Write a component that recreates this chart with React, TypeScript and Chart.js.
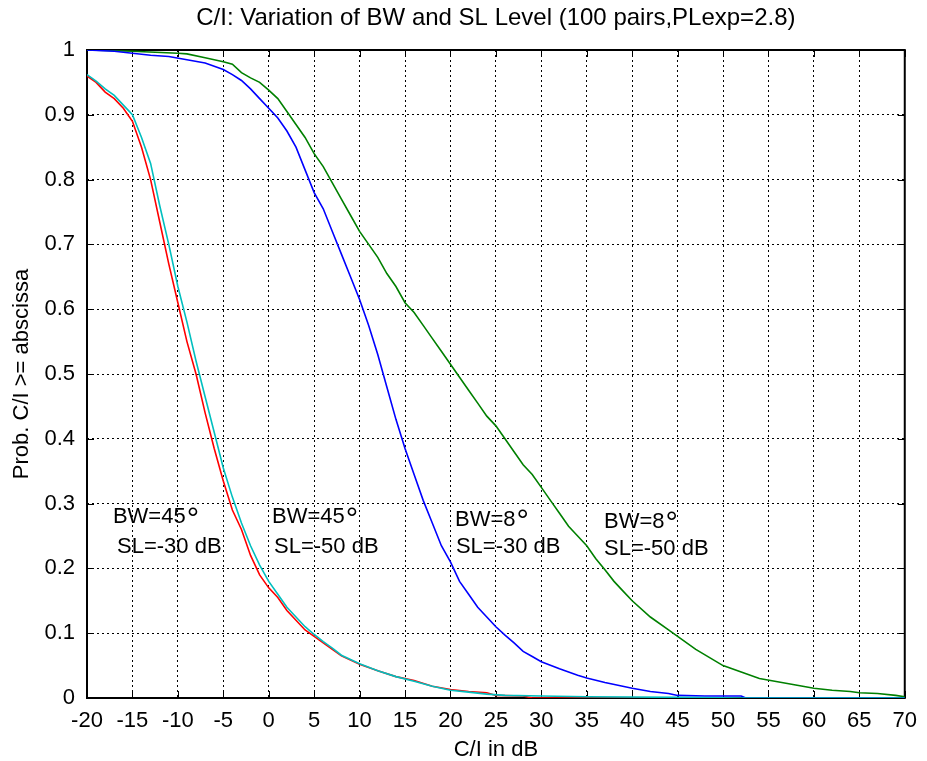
import React, { useEffect, useRef } from "react";
import { Chart, registerables } from "chart.js";

Chart.register(...registerables);

const FONT = "'Liberation Sans', Arial, Helvetica, sans-serif";

const titleText = "C/I: Variation of BW and SL Level (100 pairs,PLexp=2.8)";
const xTitle = "C/I in dB";
const yTitle = "Prob. C/I >= abscissa";

const xMin = -20;
const xMax = 70;
const xStep = 5;
const yMin = 0;
const yMax = 1;
const yStep = 0.1;

// BW=45°, SL=-30 dB (red)
const redX = [-20, -19, -18, -17, -16, -15, -14, -13, -12, -11, -10, -9, -8, -7, -6, -5, -4, -3, -2, -1, 0, 1, 2, 3, 4, 5, 6, 7, 8, 10, 12, 14, 16, 18, 20, 22, 24, 25, 28, 29, 45];
const redY = [0.96, 0.95, 0.935, 0.925, 0.91, 0.89, 0.85, 0.8, 0.735, 0.67, 0.61, 0.55, 0.5, 0.44, 0.385, 0.335, 0.29, 0.26, 0.22, 0.19, 0.17, 0.155, 0.135, 0.12, 0.105, 0.095, 0.085, 0.075, 0.065, 0.052, 0.042, 0.033, 0.027, 0.018, 0.013, 0.01, 0.008, 0.004, 0.003, 0, 0];

// BW=45°, SL=-50 dB (cyan)
const cyanX = [-20, -19, -18, -17, -16, -15, -14, -13, -12, -11, -10, -9, -8, -7, -6, -5, -4, -3, -2, -1, 0, 1, 2, 3, 4, 5, 6, 7, 8, 10, 12, 14, 16, 18, 20, 22, 24, 26, 30, 35, 45, 52, 70];
const cyanY = [0.962, 0.952, 0.94, 0.93, 0.915, 0.9, 0.865, 0.825, 0.76, 0.7, 0.635, 0.58, 0.52, 0.465, 0.41, 0.355, 0.31, 0.27, 0.235, 0.205, 0.18, 0.16, 0.14, 0.125, 0.11, 0.098, 0.087, 0.077, 0.066, 0.053, 0.042, 0.033, 0.026, 0.018, 0.012, 0.009, 0.006, 0.004, 0.003, 0.002, 0.001, 0, 0];

// BW=8°, SL=-30 dB (blue)
const blueX = [-20, -17, -15, -13, -11, -9, -7, -5, -4, -3, -2, -1, 0, 1, 2, 3, 4, 5, 6, 7, 8, 9, 10, 11, 12, 13, 14, 15, 16, 17, 18, 19, 20, 21, 22, 23, 24, 25, 26, 27, 28, 29, 30, 32, 34, 35, 37, 40, 42, 44, 45, 48, 52, 52.5, 70];
const blueY = [1.0, 0.998, 0.995, 0.992, 0.99, 0.985, 0.98, 0.97, 0.962, 0.953, 0.94, 0.925, 0.91, 0.895, 0.875, 0.85, 0.815, 0.78, 0.755, 0.72, 0.685, 0.65, 0.615, 0.575, 0.53, 0.48, 0.43, 0.385, 0.345, 0.305, 0.27, 0.235, 0.21, 0.18, 0.16, 0.14, 0.125, 0.11, 0.097, 0.085, 0.072, 0.064, 0.056, 0.045, 0.035, 0.031, 0.024, 0.015, 0.01, 0.007, 0.004, 0.003, 0.003, 0, 0];

// BW=8°, SL=-50 dB (green)
const greenX = [-20, -15, -10, -9, -7, -5, -4, -3, -2, -1, 0, 1, 2, 3, 4, 5, 6, 7, 8, 9, 10, 11, 12, 13, 14, 15, 16, 17, 18, 19, 20, 21, 22, 23, 24, 25, 26, 27, 28, 29, 30, 31, 32, 33, 34, 35, 36, 37, 38, 39, 40, 42, 44, 45, 47, 50, 52, 54, 56, 58, 60, 62, 64, 65, 67, 69, 70];
const greenY = [1.0, 0.998, 0.995, 0.994, 0.988, 0.982, 0.978, 0.965, 0.957, 0.95, 0.938, 0.925, 0.905, 0.885, 0.865, 0.84, 0.82, 0.795, 0.77, 0.745, 0.72, 0.7, 0.68, 0.655, 0.635, 0.61, 0.595, 0.575, 0.555, 0.535, 0.515, 0.495, 0.475, 0.455, 0.435, 0.42, 0.4, 0.38, 0.36, 0.345, 0.325, 0.305, 0.285, 0.265, 0.25, 0.235, 0.215, 0.198, 0.18, 0.165, 0.15, 0.125, 0.105, 0.095, 0.075, 0.05, 0.04, 0.03, 0.025, 0.02, 0.015, 0.012, 0.01, 0.008, 0.007, 0.004, 0.002];

// Text annotations (data coordinates)
const annotLine1 = ["BW=45°", "BW=45°", "BW=8°", "BW=8°"];
const annotLine2 = ["SL=-30 dB", "SL=-50 dB", "SL=-30 dB", "SL=-50 dB"];
const annot1X = [-17.15, 0.37, 20.5, 36.9];
const annot1Y = [0.279, 0.279, 0.275, 0.272];
const annot2X = [-16.7, 0.58, 20.6, 36.9];
const annot2Y = [0.233, 0.233, 0.233, 0.23];

const toPoints = (xs: number[], ys: number[]) => xs.map((x, i) => ({ x, y: ys[i] }));

const framePlugin = {
  id: "matlabFrame",
  beforeDatasetsDraw(chart: any) {
    const { ctx, chartArea: a, scales } = chart;
    ctx.save();
    ctx.setLineDash([]);
    ctx.strokeStyle = "#000";
    ctx.lineWidth = 2;
    ctx.strokeRect(a.left, a.top, a.right - a.left, a.bottom - a.top);
    ctx.lineWidth = 1;
    const tl = 7;
    ctx.beginPath();
    scales.x.ticks.forEach((t: any) => {
      const px = Math.round(scales.x.getPixelForValue(t.value)) + 0.5;
      ctx.moveTo(px, a.bottom);
      ctx.lineTo(px, a.bottom - tl);
      ctx.moveTo(px, a.top);
      ctx.lineTo(px, a.top + tl);
    });
    scales.y.ticks.forEach((t: any) => {
      const py = Math.round(scales.y.getPixelForValue(t.value)) + 0.5;
      ctx.moveTo(a.left, py);
      ctx.lineTo(a.left + tl, py);
      ctx.moveTo(a.right, py);
      ctx.lineTo(a.right - tl, py);
    });
    ctx.stroke();
    ctx.restore();
  },
};

const annotPlugin = {
  id: "annotText",
  afterDatasetsDraw(chart: any) {
    const { ctx, scales } = chart;
    ctx.save();
    ctx.fillStyle = "#000";
    ctx.textAlign = "left";
    ctx.textBaseline = "middle";
    const base = `22px ${FONT}`;
    const ring = `31px ${FONT}`;
    annotLine1.forEach((txt, i) => {
      const x = scales.x.getPixelForValue(annot1X[i]);
      const y = scales.y.getPixelForValue(annot1Y[i]);
      const parts = txt.split("°");
      ctx.font = base;
      ctx.fillText(parts[0], x, y);
      const w = ctx.measureText(parts[0]).width;
      if (txt.includes("°")) {
        ctx.font = ring;
        ctx.fillText("°", x + w + 1, y + 3);
      }
      ctx.font = base;
      ctx.fillText(annotLine2[i], scales.x.getPixelForValue(annot2X[i]), scales.y.getPixelForValue(annot2Y[i]));
    });
    ctx.restore();
  },
};

export default function App() {
  const ref = useRef<HTMLCanvasElement | null>(null);
  useEffect(() => {
    if (!ref.current) return;
    const mk = (label: string, xs: number[], ys: number[], color: string) => ({
      label,
      data: toPoints(xs, ys),
      borderColor: color,
      backgroundColor: color,
      borderWidth: 1.6,
      pointRadius: 0,
      tension: 0,
      fill: false,
    });
    const chart = new Chart(ref.current, {
      type: "line",
      data: {
        datasets: [
          mk("BW=45°, SL=-50 dB", cyanX, cyanY, "#00bfbf"),
          mk("BW=45°, SL=-30 dB", redX, redY, "#ff0000"),
          mk("BW=8°, SL=-30 dB", blueX, blueY, "#0000ff"),
          mk("BW=8°, SL=-50 dB", greenX, greenY, "#008000"),
        ],
      },
      options: {
        responsive: false,
        animation: false,
        devicePixelRatio: 1,
        layout: { padding: { top: 0, right: 18, left: 0, bottom: 0 } },
        plugins: {
          legend: { display: false },
          tooltip: { enabled: false },
          title: {
            display: true,
            text: titleText,
            fullSize: false,
            color: "#000",
            font: { family: FONT, size: 24, weight: "normal", lineHeight: 1.2 },
            padding: { top: 4.3, bottom: 16.9 },
          },
        },
        scales: {
          x: {
            type: "linear",
            min: xMin,
            max: xMax,
            afterFit: (s: any) => {
              s.height = 63;
            },
            ticks: {
              stepSize: xStep,
              color: "#000",
              padding: 10,
              font: { family: FONT, size: 22 },
              maxRotation: 0,
              autoSkip: false,
            },
            grid: { color: "#000", lineWidth: 1, drawTicks: false },
            border: { display: false, dash: [2, 3] },
            title: {
              display: true,
              text: xTitle,
              color: "#000",
              font: { family: FONT, size: 22, lineHeight: 1.2 },
              padding: { top: 0, bottom: -2 },
            },
          },
          y: {
            type: "linear",
            min: yMin,
            max: yMax,
            afterFit: (s: any) => {
              s.width = 87;
            },
            ticks: {
              stepSize: yStep,
              color: "#000",
              padding: 12,
              font: { family: FONT, size: 22 },
              callback: (v: any) => String(Number(Number(v).toFixed(1))),
            },
            grid: { color: "#000", lineWidth: 1, drawTicks: false },
            border: { display: false, dash: [2, 3] },
            title: {
              display: true,
              text: yTitle,
              color: "#000",
              font: { family: FONT, size: 22, lineHeight: 1.2 },
              padding: { top: 9, bottom: 0 },
            },
          },
        },
      },
      plugins: [framePlugin, annotPlugin],
    } as any);
    return () => chart.destroy();
  }, []);
  return (
    <canvas
      ref={ref}
      width={927}
      height={761}
      style={{ position: "absolute", left: 0, top: 0, width: 927, height: 761 }}
    />
  );
}
